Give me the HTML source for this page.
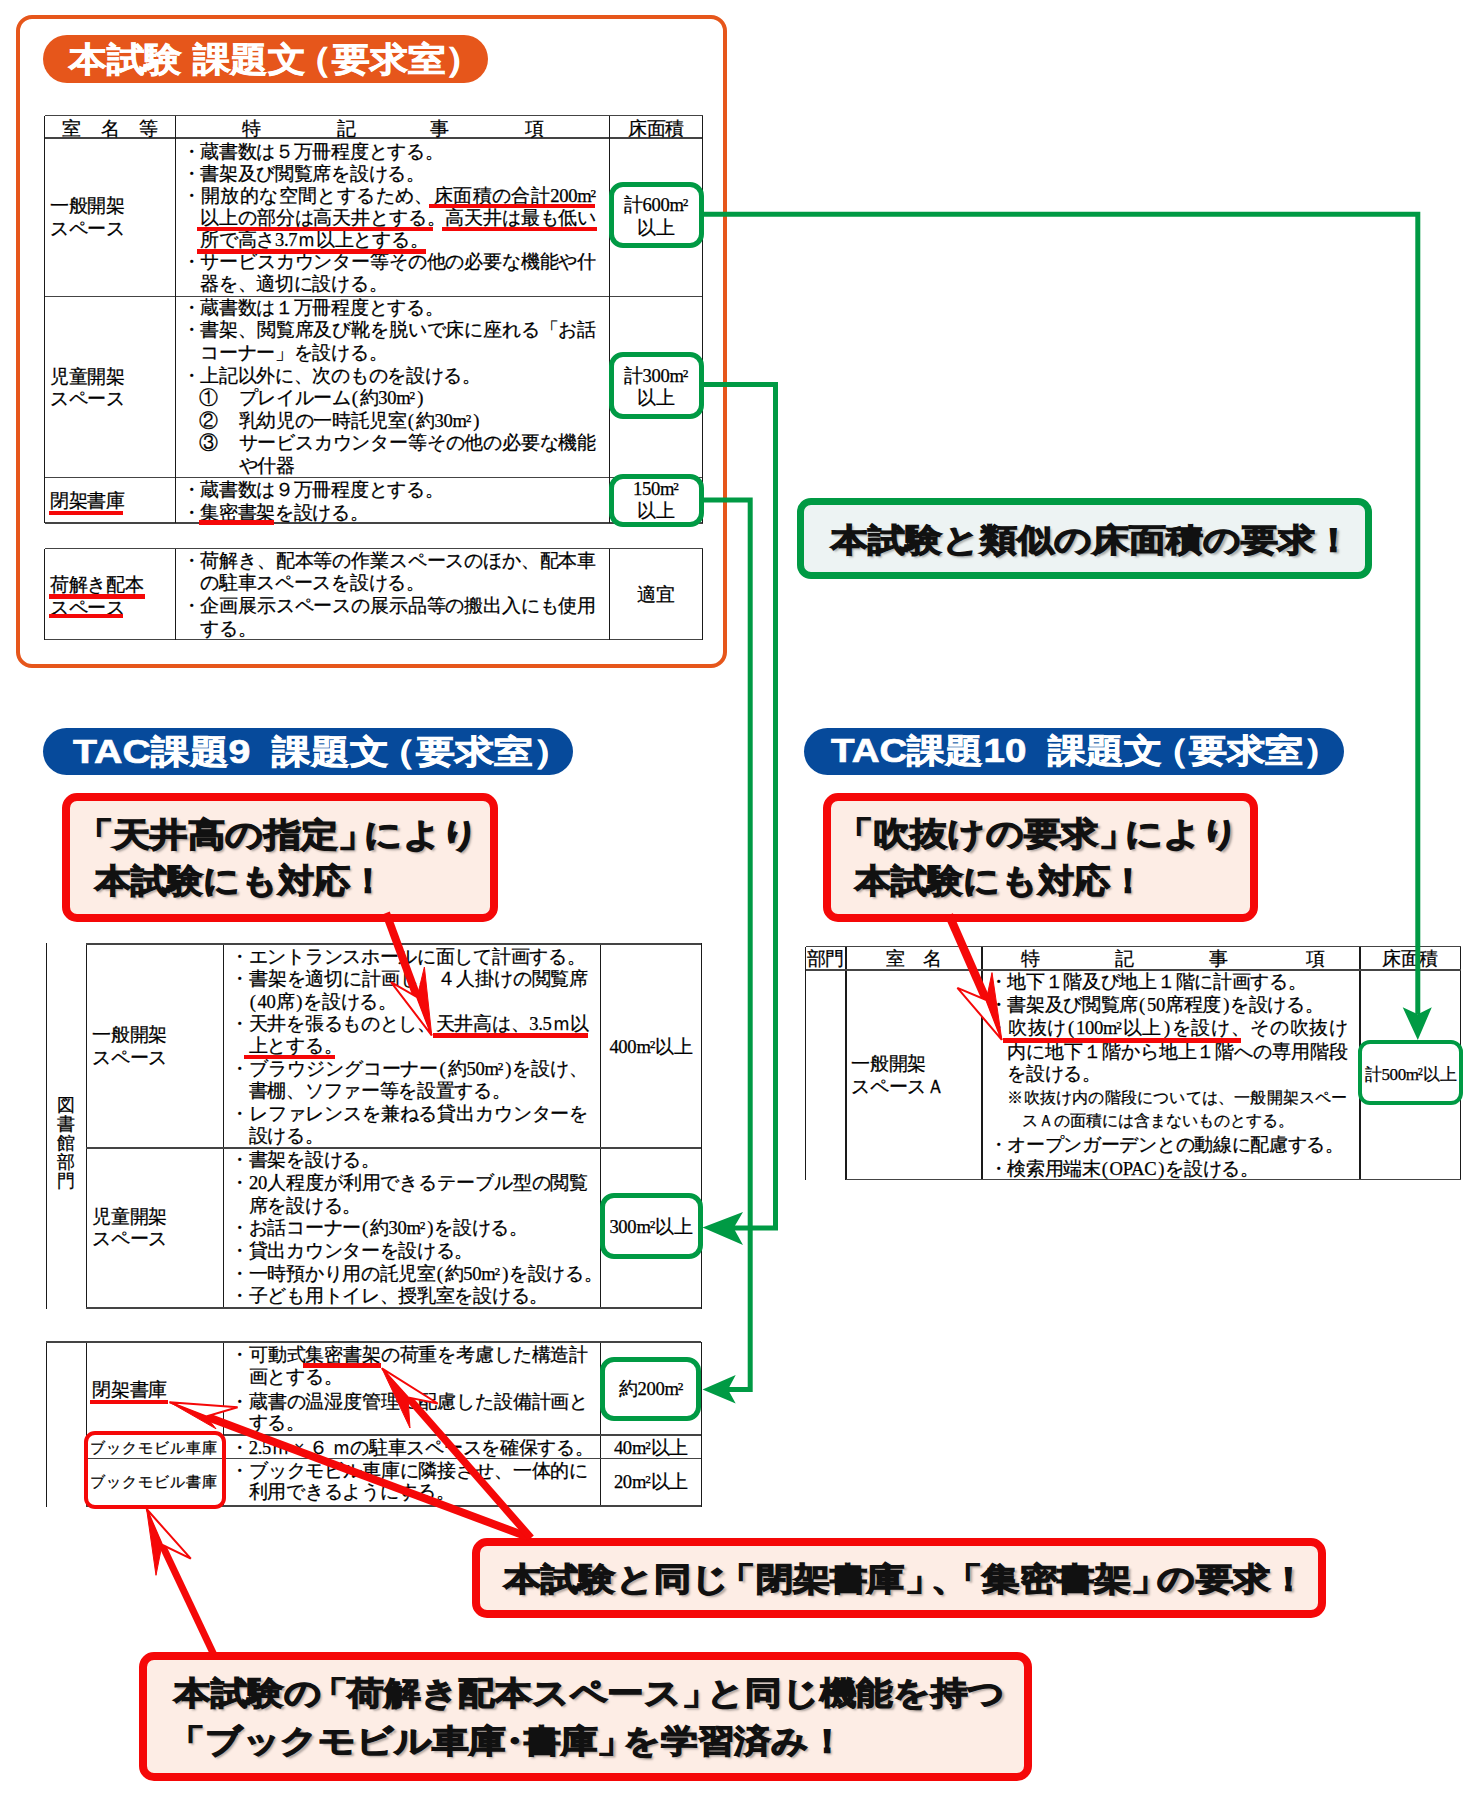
<!DOCTYPE html>
<html lang="ja"><head><meta charset="utf-8"><style>
html,body{margin:0;padding:0;background:#fff;}
body{width:1476px;height:1794px;position:relative;overflow:hidden;font-family:"Liberation Serif",serif;color:#111;}
.t{position:absolute;white-space:nowrap;line-height:24px;font-family:"Liberation Serif",serif;color:#000;-webkit-text-stroke:0.25px #000;}
.ob{margin-left:-0.3em}.cb{margin-right:-0.3em}.nd{margin:0 -0.25em}
.pl{margin-left:1px;margin-right:2px}.m2{letter-spacing:-1.2px;margin-right:1.2px}.pr{margin-left:2px;margin-right:1px}
.b{position:absolute;white-space:nowrap;font-family:"Liberation Sans",sans-serif;font-weight:bold;}
.cal{position:absolute;white-space:nowrap;font-family:"Liberation Sans",sans-serif;font-weight:bold;color:#111;line-height:1;transform-origin:0 0;-webkit-text-stroke:1.25px #111;text-shadow:2px 2px 2px rgba(0,0,0,0.3);}
.pill{position:absolute;white-space:nowrap;font-family:"Liberation Sans",sans-serif;font-weight:bold;color:#fff;line-height:1;transform-origin:0 0;-webkit-text-stroke:0.7px #fff;}
</style></head><body>
<div style="position:absolute;left:15.5px;top:14.5px;width:711.0px;height:653.5px;box-sizing:border-box;border:4px solid #E6561B;border-radius:16px;background:transparent;"></div>
<div style="position:absolute;left:43px;top:35px;width:445px;height:48px;border-radius:24px;background:#E6561B"></div>
<div style="position:absolute;left:44.5px;top:114.7px;width:658.0px;height:1.6px;background:#444"></div>
<div style="position:absolute;left:44.5px;top:137.2px;width:658.0px;height:1.6px;background:#444"></div>
<div style="position:absolute;left:44.5px;top:295.5px;width:658.0px;height:1.6px;background:#444"></div>
<div style="position:absolute;left:44.5px;top:476.59999999999997px;width:658.0px;height:1.6px;background:#444"></div>
<div style="position:absolute;left:44.5px;top:522.2px;width:658.0px;height:1.6px;background:#444"></div>
<div style="position:absolute;left:43.85px;top:115.5px;width:1.3px;height:407.5px;background:#1a1a1a"></div>
<div style="position:absolute;left:174.85px;top:115.5px;width:1.3px;height:407.5px;background:#1a1a1a"></div>
<div style="position:absolute;left:608.85px;top:115.5px;width:1.3px;height:407.5px;background:#1a1a1a"></div>
<div style="position:absolute;left:701.85px;top:115.5px;width:1.3px;height:407.5px;background:#1a1a1a"></div>
<div class="t" style="left:-78.5px;width:300px;text-align:center;top:116.80000000000001px;font-size:18.6px;letter-spacing:-0.3px;">室</div>
<div class="t" style="left:-40px;width:300px;text-align:center;top:116.80000000000001px;font-size:18.6px;letter-spacing:-0.3px;">名</div>
<div class="t" style="left:-2px;width:300px;text-align:center;top:116.80000000000001px;font-size:18.6px;letter-spacing:-0.3px;">等</div>
<div class="t" style="left:101px;width:300px;text-align:center;top:116.80000000000001px;font-size:18.6px;letter-spacing:-0.3px;">特</div>
<div class="t" style="left:196px;width:300px;text-align:center;top:116.80000000000001px;font-size:18.6px;letter-spacing:-0.3px;">記</div>
<div class="t" style="left:289.5px;width:300px;text-align:center;top:116.80000000000001px;font-size:18.6px;letter-spacing:-0.3px;">事</div>
<div class="t" style="left:384px;width:300px;text-align:center;top:116.80000000000001px;font-size:18.6px;letter-spacing:-0.3px;">項</div>
<div class="t" style="left:506px;width:300px;text-align:center;top:116.80000000000001px;font-size:18.6px;letter-spacing:-0.3px;">床面積</div>
<div class="t" style="left:50px;top:194.2px;font-size:18.6px;letter-spacing:-0.3px;">一般開架</div>
<div class="t" style="left:50px;top:217.3px;font-size:18.6px;letter-spacing:-0.3px;">スペース</div>
<div class="t" style="left:181.5px;top:139.5px;font-size:18.6px;letter-spacing:-0.3px;">・蔵書数は５万冊程度とする。</div>
<div class="t" style="left:181.5px;top:161.65px;font-size:18.6px;letter-spacing:-0.3px;">・書架及び閲覧席を設ける。</div>
<div class="t" style="left:181.5px;top:183.8px;font-size:18.6px;letter-spacing:-0.3px;width:414.5px;text-align:justify;text-align-last:justify;">・開放的な空間とするため、床面積の合計200<span class="m2">m²</span></div>
<div class="t" style="left:181.5px;top:205.95px;font-size:18.6px;letter-spacing:-0.3px;width:414.5px;text-align:justify;text-align-last:justify;">　以上の部分は高天井とする。高天井は最も低い</div>
<div class="t" style="left:181.5px;top:228.1px;font-size:18.6px;letter-spacing:-0.3px;">　所で高さ3.7ｍ以上とする。</div>
<div class="t" style="left:181.5px;top:250.25px;font-size:18.6px;letter-spacing:-0.3px;width:414.5px;text-align:justify;text-align-last:justify;">・サービスカウンター等その他の必要な機能や什</div>
<div class="t" style="left:181.5px;top:272.4px;font-size:18.6px;letter-spacing:-0.3px;">　器を、適切に設ける。</div>
<div class="t" style="left:50px;top:364.7px;font-size:18.6px;letter-spacing:-0.3px;">児童開架</div>
<div class="t" style="left:50px;top:387.3px;font-size:18.6px;letter-spacing:-0.3px;">スペース</div>
<div class="t" style="left:181.5px;top:295.7px;font-size:18.6px;letter-spacing:-0.3px;">・蔵書数は１万冊程度とする。</div>
<div class="t" style="left:181.5px;top:318.3px;font-size:18.6px;letter-spacing:-0.3px;width:414.5px;text-align:justify;text-align-last:justify;">・書架、閲覧席及び靴を脱いで床に座れる「お話</div>
<div class="t" style="left:181.5px;top:340.9px;font-size:18.6px;letter-spacing:-0.3px;">　コーナー」を設ける。</div>
<div class="t" style="left:181.5px;top:363.5px;font-size:18.6px;letter-spacing:-0.3px;">・上記以外に、次のものを設ける。</div>
<div class="t" style="left:199px;top:386.0px;font-size:18.6px;letter-spacing:-0.3px;">①</div>
<div class="t" style="left:238.5px;top:386.0px;font-size:18.6px;letter-spacing:-0.3px;">プレイルーム<span class="pl">(</span>約30<span class="m2">m²</span><span class="pr">)</span></div>
<div class="t" style="left:199px;top:408.9px;font-size:18.6px;letter-spacing:-0.3px;">②</div>
<div class="t" style="left:238.5px;top:408.9px;font-size:18.6px;letter-spacing:-0.3px;">乳幼児の一時託児室<span class="pl">(</span>約30<span class="m2">m²</span><span class="pr">)</span></div>
<div class="t" style="left:199px;top:431.3px;font-size:18.6px;letter-spacing:-0.3px;">③</div>
<div class="t" style="left:238.5px;top:431.3px;font-size:18.6px;letter-spacing:-0.3px;width:357.5px;text-align:justify;text-align-last:justify;">サービスカウンター等その他の必要な機能</div>
<div class="t" style="left:238.5px;top:454.0px;font-size:18.6px;letter-spacing:-0.3px;">や什器</div>
<div class="t" style="left:50px;top:489.4px;font-size:18.6px;letter-spacing:-0.3px;">閉架書庫</div>
<div class="t" style="left:181.5px;top:478.4px;font-size:18.6px;letter-spacing:-0.3px;">・蔵書数は９万冊程度とする。</div>
<div class="t" style="left:181.5px;top:500.79999999999995px;font-size:18.6px;letter-spacing:-0.3px;">・集密書架を設ける。</div>
<div style="position:absolute;left:44.5px;top:547.7px;width:658.0px;height:1.6px;background:#444"></div>
<div style="position:absolute;left:44.5px;top:638.7px;width:658.0px;height:1.6px;background:#444"></div>
<div style="position:absolute;left:43.85px;top:548.5px;width:1.3px;height:91.0px;background:#1a1a1a"></div>
<div style="position:absolute;left:174.85px;top:548.5px;width:1.3px;height:91.0px;background:#1a1a1a"></div>
<div style="position:absolute;left:608.85px;top:548.5px;width:1.3px;height:91.0px;background:#1a1a1a"></div>
<div style="position:absolute;left:701.85px;top:548.5px;width:1.3px;height:91.0px;background:#1a1a1a"></div>
<div class="t" style="left:50px;top:572.7px;font-size:18.6px;letter-spacing:-0.3px;">荷解き配本</div>
<div class="t" style="left:50px;top:596.2px;font-size:18.6px;letter-spacing:-0.3px;">スペース</div>
<div class="t" style="left:181.5px;top:548.7px;font-size:18.6px;letter-spacing:-0.3px;width:414.5px;text-align:justify;text-align-last:justify;">・荷解き、配本等の作業スペースのほか、配本車</div>
<div class="t" style="left:181.5px;top:571.3000000000001px;font-size:18.6px;letter-spacing:-0.3px;">　の駐車スペースを設ける。</div>
<div class="t" style="left:181.5px;top:593.9000000000001px;font-size:18.6px;letter-spacing:-0.3px;width:414.5px;text-align:justify;text-align-last:justify;">・企画展示スペースの展示品等の搬出入にも使用</div>
<div class="t" style="left:181.5px;top:616.5px;font-size:18.6px;letter-spacing:-0.3px;">　する。</div>
<div class="t" style="left:506px;width:300px;text-align:center;top:583.3px;font-size:18.6px;letter-spacing:-0.3px;">適宜</div>
<div style="position:absolute;left:429.1px;top:203.55px;width:166.19999999999993px;height:4.5px;background:#F50808"></div>
<div style="position:absolute;left:196.8px;top:226.55px;width:236.59999999999997px;height:4.5px;background:#F50808"></div>
<div style="position:absolute;left:442.2px;top:226.55px;width:154.8px;height:4.5px;background:#F50808"></div>
<div style="position:absolute;left:196.8px;top:249.35px;width:228.89999999999998px;height:4.5px;background:#F50808"></div>
<div style="position:absolute;left:49.1px;top:510.95000000000005px;width:74.19999999999999px;height:4.5px;background:#F50808"></div>
<div style="position:absolute;left:199px;top:520.25px;width:75px;height:4.5px;background:#F50808"></div>
<div style="position:absolute;left:49.3px;top:594.15px;width:95.39999999999999px;height:4.5px;background:#F50808"></div>
<div style="position:absolute;left:49.3px;top:613.95px;width:73.7px;height:4.5px;background:#F50808"></div>
<div style="position:absolute;left:608.7px;top:181.8px;width:95.09999999999991px;height:66.6px;box-sizing:border-box;border:5.2px solid #009A44;border-radius:14px;background:#fff;"></div>
<div class="t" style="left:506px;width:300px;text-align:center;top:193.0px;font-size:18.6px;letter-spacing:-0.3px;">計600<span class="m2">m²</span></div>
<div class="t" style="left:506px;width:300px;text-align:center;top:216.0px;font-size:18.6px;letter-spacing:-0.3px;">以上</div>
<div style="position:absolute;left:608.7px;top:352px;width:95.09999999999991px;height:66.60000000000002px;box-sizing:border-box;border:5.2px solid #009A44;border-radius:14px;background:#fff;"></div>
<div class="t" style="left:506px;width:300px;text-align:center;top:364.0px;font-size:18.6px;letter-spacing:-0.3px;">計300<span class="m2">m²</span></div>
<div class="t" style="left:506px;width:300px;text-align:center;top:386.0px;font-size:18.6px;letter-spacing:-0.3px;">以上</div>
<div style="position:absolute;left:608.7px;top:473.9px;width:95.09999999999991px;height:53.0px;box-sizing:border-box;border:5.2px solid #009A44;border-radius:14px;background:#fff;"></div>
<div class="t" style="left:506px;width:300px;text-align:center;top:477.0px;font-size:18.6px;letter-spacing:-0.3px;">150<span class="m2">m²</span></div>
<div class="t" style="left:506px;width:300px;text-align:center;top:499.0px;font-size:18.6px;letter-spacing:-0.3px;">以上</div>
<div style="position:absolute;left:797.4px;top:498px;width:574.6px;height:81px;box-sizing:border-box;border:7.8px solid #009A44;border-radius:14px;background:#EDF3F3;"></div>
<div style="position:absolute;left:43px;top:727.5px;width:530px;height:47px;border-radius:23.5px;background:#064A9B"></div>
<div style="position:absolute;left:803.5px;top:727.5px;width:540.5px;height:47px;border-radius:23.5px;background:#064A9B"></div>
<div style="position:absolute;left:62px;top:793.4px;width:436px;height:128.20000000000005px;box-sizing:border-box;border:8px solid #F50808;border-radius:15px;background:#FDEDE5;"></div>
<div style="position:absolute;left:822.5px;top:793.4px;width:435.5px;height:128.20000000000005px;box-sizing:border-box;border:8px solid #F50808;border-radius:15px;background:#FDEDE5;"></div>
<div style="position:absolute;left:472px;top:1538.3px;width:853.7px;height:79.70000000000005px;box-sizing:border-box;border:8px solid #F50808;border-radius:15px;background:#FDEDE5;"></div>
<div style="position:absolute;left:139.2px;top:1652px;width:892.8px;height:128.70000000000005px;box-sizing:border-box;border:8.2px solid #F50808;border-radius:15px;background:#FDEDE5;"></div>
<div class="cal" style="left:831.00px;top:524.40px;font-size:32.4px;transform:scaleX(1.1561)">本試験と類似の床面積の要求！</div>
<div class="cal" style="left:86.60px;top:817.80px;font-size:33.3px;transform:scaleX(1.1316)"><span class="ob">「</span>天井高の指定<span class="cb">」</span>により</div>
<div class="cal" style="left:94.60px;top:864.30px;font-size:33.3px;transform:scaleX(1.0941)">本試験にも対応！</div>
<div class="cal" style="left:846.60px;top:817.30px;font-size:33.3px;transform:scaleX(1.1282)"><span class="ob">「</span>吹抜けの要求<span class="cb">」</span>により</div>
<div class="cal" style="left:854.60px;top:864.30px;font-size:33.3px;transform:scaleX(1.0941)">本試験にも対応！</div>
<div class="cal" style="left:503.60px;top:1563.40px;font-size:32.4px;transform:scaleX(1.1638)">本試験と同じ<span class="ob">「</span>閉架書庫<span class="cb">」</span><span class="cb">、</span><span class="ob">「</span>集密書架<span class="cb">」</span>の要求！</div>
<div class="cal" style="left:174.00px;top:1677.40px;font-size:32.4px;transform:scaleX(1.1456)">本試験の<span class="ob">「</span>荷解き配本スペース<span class="cb">」</span>と同じ機能を持つ</div>
<div class="cal" style="left:179.00px;top:1725.40px;font-size:32.4px;transform:scaleX(1.1488)"><span class="ob">「</span>ブックモビル車庫<span class="nd">・</span>書庫<span class="cb">」</span>を学習済み！</div>
<div class="pill" style="left:68.80px;top:42.30px;font-size:34.2px;transform:scaleX(1.1091)">本試験 課題文<span class="ob">（</span>要求室<span class="cb">）</span></div>
<div class="pill" style="left:72.60px;top:734.60px;font-size:33.3px;transform:scaleX(1.1789)">TAC課題9&nbsp; 課題文<span class="ob">（</span>要求室<span class="cb">）</span></div>
<div class="pill" style="left:830.50px;top:734.10px;font-size:33.3px;transform:scaleX(1.1564)">TAC課題10&nbsp; 課題文<span class="ob">（</span>要求室<span class="cb">）</span></div>
<div style="position:absolute;left:45.550000000000004px;top:943px;width:1.3px;height:365.5px;background:#1a1a1a"></div>
<div style="position:absolute;left:85.75px;top:943px;width:1.3px;height:365.5px;background:#1a1a1a"></div>
<div style="position:absolute;left:222.85px;top:943px;width:1.3px;height:365.5px;background:#1a1a1a"></div>
<div style="position:absolute;left:599.95px;top:943px;width:1.3px;height:365.5px;background:#1a1a1a"></div>
<div style="position:absolute;left:700.75px;top:943px;width:1.3px;height:365.5px;background:#1a1a1a"></div>
<div style="position:absolute;left:86.4px;top:943.2px;width:615.0px;height:1.6px;background:#444"></div>
<div style="position:absolute;left:86.4px;top:1147.2px;width:615.0px;height:1.6px;background:#444"></div>
<div style="position:absolute;left:86.4px;top:1307.4px;width:615.0px;height:1.6px;background:#444"></div>
<div class="t" style="left:-84.3px;width:300px;text-align:center;top:1093.0px;font-size:17.5px;letter-spacing:0px;">図</div>
<div class="t" style="left:-84.3px;width:300px;text-align:center;top:1111.9px;font-size:17.5px;letter-spacing:0px;">書</div>
<div class="t" style="left:-84.3px;width:300px;text-align:center;top:1130.8px;font-size:17.5px;letter-spacing:0px;">館</div>
<div class="t" style="left:-84.3px;width:300px;text-align:center;top:1149.7px;font-size:17.5px;letter-spacing:0px;">部</div>
<div class="t" style="left:-84.3px;width:300px;text-align:center;top:1168.6px;font-size:17.5px;letter-spacing:0px;">門</div>
<div class="t" style="left:92.3px;top:1023.2px;font-size:18.6px;letter-spacing:-0.3px;">一般開架</div>
<div class="t" style="left:92.3px;top:1046.0px;font-size:18.6px;letter-spacing:-0.3px;">スペース</div>
<div class="t" style="left:230px;top:944.6px;font-size:18.6px;letter-spacing:-0.3px;">・エントランスホールに面して計画する。</div>
<div class="t" style="left:230px;top:967.0500000000001px;font-size:18.6px;letter-spacing:-0.3px;width:358.0px;text-align:justify;text-align-last:justify;">・書架を適切に計画し、４人掛けの閲覧席</div>
<div class="t" style="left:230px;top:989.5px;font-size:18.6px;letter-spacing:-0.3px;">　<span class="pl">(</span>40席<span class="pr">)</span>を設ける。</div>
<div class="t" style="left:230px;top:1011.95px;font-size:18.6px;letter-spacing:-0.3px;width:358.0px;text-align:justify;text-align-last:justify;">・天井を張るものとし、天井高は、3.5ｍ以</div>
<div class="t" style="left:230px;top:1034.4px;font-size:18.6px;letter-spacing:-0.3px;">　上とする。</div>
<div class="t" style="left:230px;top:1056.85px;font-size:18.6px;letter-spacing:-0.3px;width:358.0px;text-align:justify;text-align-last:justify;">・ブラウジングコーナー<span class="pl">(</span>約50<span class="m2">m²</span><span class="pr">)</span>を設け、</div>
<div class="t" style="left:230px;top:1079.3px;font-size:18.6px;letter-spacing:-0.3px;">　書棚、ソファー等を設置する。</div>
<div class="t" style="left:230px;top:1101.75px;font-size:18.6px;letter-spacing:-0.3px;width:358.0px;text-align:justify;text-align-last:justify;">・レファレンスを兼ねる貸出カウンターを</div>
<div class="t" style="left:230px;top:1124.2px;font-size:18.6px;letter-spacing:-0.3px;">　設ける。</div>
<div class="t" style="left:501px;width:300px;text-align:center;top:1035.0px;font-size:18.6px;letter-spacing:-0.3px;">400<span class="m2">m²</span>以上</div>
<div class="t" style="left:92.3px;top:1204.6px;font-size:18.6px;letter-spacing:-0.3px;">児童開架</div>
<div class="t" style="left:92.3px;top:1227.4px;font-size:18.6px;letter-spacing:-0.3px;">スペース</div>
<div class="t" style="left:230px;top:1148.4px;font-size:18.6px;letter-spacing:-0.3px;">・書架を設ける。</div>
<div class="t" style="left:230px;top:1171.0600000000002px;font-size:18.6px;letter-spacing:-0.3px;width:358.0px;text-align:justify;text-align-last:justify;">・20人程度が利用できるテーブル型の閲覧</div>
<div class="t" style="left:230px;top:1193.72px;font-size:18.6px;letter-spacing:-0.3px;">　席を設ける。</div>
<div class="t" style="left:230px;top:1216.38px;font-size:18.6px;letter-spacing:-0.3px;">・お話コーナー<span class="pl">(</span>約30<span class="m2">m²</span><span class="pr">)</span>を設ける。</div>
<div class="t" style="left:230px;top:1239.0400000000002px;font-size:18.6px;letter-spacing:-0.3px;">・貸出カウンターを設ける。</div>
<div class="t" style="left:230px;top:1261.7px;font-size:18.6px;letter-spacing:-0.3px;">・一時預かり用の託児室<span class="pl">(</span>約50<span class="m2">m²</span><span class="pr">)</span>を設ける。</div>
<div class="t" style="left:230px;top:1284.3600000000001px;font-size:18.6px;letter-spacing:-0.3px;">・子ども用トイレ、授乳室を設ける。</div>
<div style="position:absolute;left:433px;top:1033.25px;width:155px;height:4.5px;background:#F50808"></div>
<div style="position:absolute;left:243.6px;top:1054.75px;width:91.9px;height:4.5px;background:#F50808"></div>
<div style="position:absolute;left:599.5px;top:1192.5px;width:103.0px;height:66.79999999999995px;box-sizing:border-box;border:5.1px solid #009A44;border-radius:14px;background:#fff;"></div>
<div class="t" style="left:501px;width:300px;text-align:center;top:1215.0px;font-size:18.6px;letter-spacing:-0.3px;">300<span class="m2">m²</span>以上</div>
<div style="position:absolute;left:45.550000000000004px;top:1342px;width:1.3px;height:164.5px;background:#1a1a1a"></div>
<div style="position:absolute;left:85.75px;top:1342px;width:1.3px;height:164.5px;background:#1a1a1a"></div>
<div style="position:absolute;left:222.85px;top:1342px;width:1.3px;height:164.5px;background:#1a1a1a"></div>
<div style="position:absolute;left:599.95px;top:1342px;width:1.3px;height:164.5px;background:#1a1a1a"></div>
<div style="position:absolute;left:700.75px;top:1342px;width:1.3px;height:164.5px;background:#1a1a1a"></div>
<div style="position:absolute;left:46.2px;top:1341.2px;width:655.1999999999999px;height:1.6px;background:#444"></div>
<div style="position:absolute;left:223.5px;top:1434.4px;width:477.9px;height:1.6px;background:#444"></div>
<div style="position:absolute;left:86.4px;top:1457.7px;width:615.0px;height:1.6px;background:#444"></div>
<div style="position:absolute;left:86.4px;top:1505.2px;width:615.0px;height:1.6px;background:#444"></div>
<div class="t" style="left:92.3px;top:1378.0px;font-size:18.6px;letter-spacing:-0.3px;">閉架書庫</div>
<div class="t" style="left:230px;top:1342.7px;font-size:18.6px;letter-spacing:-0.3px;width:358.0px;text-align:justify;text-align-last:justify;">・可動式集密書架の荷重を考慮した構造計</div>
<div class="t" style="left:230px;top:1365.4px;font-size:18.6px;letter-spacing:-0.3px;">　画とする。</div>
<div class="t" style="left:230px;top:1389.8px;font-size:18.6px;letter-spacing:-0.3px;width:358.0px;text-align:justify;text-align-last:justify;">・蔵書の温湿度管理に配慮した設備計画と</div>
<div class="t" style="left:230px;top:1411.4px;font-size:18.6px;letter-spacing:-0.3px;">　する。</div>
<div class="t" style="left:230px;top:1435.8px;font-size:18.6px;letter-spacing:-0.3px;width:351.0px;text-align:justify;text-align-last:justify;">・2.5ｍ × ６ ｍの駐車スペースを確保する。</div>
<div class="t" style="left:230px;top:1458.6px;font-size:18.6px;letter-spacing:-0.3px;width:358.0px;text-align:justify;text-align-last:justify;">・ブックモビル車庫に隣接させ、一体的に</div>
<div class="t" style="left:230px;top:1480.2px;font-size:18.6px;letter-spacing:-0.3px;">　利用できるようにする。</div>
<div class="t" style="left:90.3px;top:1435.8px;font-size:15.3px;letter-spacing:1.0px;">ブックモビル車庫</div>
<div class="t" style="left:90.3px;top:1470.4px;font-size:15.3px;letter-spacing:1.0px;">ブックモビル書庫</div>
<div style="position:absolute;left:599.8px;top:1356.5px;width:101.40000000000009px;height:64.0px;box-sizing:border-box;border:5.1px solid #009A44;border-radius:14px;background:#fff;"></div>
<div class="t" style="left:501px;width:300px;text-align:center;top:1377.0px;font-size:18.6px;letter-spacing:-0.3px;">約200<span class="m2">m²</span></div>
<div class="t" style="left:501px;width:300px;text-align:center;top:1435.8px;font-size:18.6px;letter-spacing:-0.3px;">40<span class="m2">m²</span>以上</div>
<div class="t" style="left:501px;width:300px;text-align:center;top:1470.4px;font-size:18.6px;letter-spacing:-0.3px;">20<span class="m2">m²</span>以上</div>
<div style="position:absolute;left:90.3px;top:1399.55px;width:77.39999999999999px;height:4.5px;background:#F50808"></div>
<div style="position:absolute;left:303px;top:1363.35px;width:78px;height:4.5px;background:#F50808"></div>
<div style="position:absolute;left:84px;top:1431px;width:142px;height:78px;box-sizing:border-box;border:4.5px solid #F50808;border-radius:11px;background:transparent;"></div>
<div style="position:absolute;left:804.85px;top:946.5px;width:1.3px;height:233.5px;background:#1a1a1a"></div>
<div style="position:absolute;left:845.35px;top:946.5px;width:1.3px;height:233.5px;background:#1a1a1a"></div>
<div style="position:absolute;left:981.35px;top:946.5px;width:1.3px;height:233.5px;background:#1a1a1a"></div>
<div style="position:absolute;left:1359.35px;top:946.5px;width:1.3px;height:233.5px;background:#1a1a1a"></div>
<div style="position:absolute;left:1459.85px;top:946.5px;width:1.3px;height:233.5px;background:#1a1a1a"></div>
<div style="position:absolute;left:805.5px;top:945.7px;width:655.0px;height:1.6px;background:#444"></div>
<div style="position:absolute;left:805.5px;top:969.2px;width:655.0px;height:1.6px;background:#444"></div>
<div style="position:absolute;left:846px;top:1178.7px;width:614.5px;height:1.6px;background:#444"></div>
<div class="t" style="left:807px;top:946.9px;font-size:18.6px;letter-spacing:-1px;">部門</div>
<div class="t" style="left:745.4px;width:300px;text-align:center;top:946.9px;font-size:18.6px;letter-spacing:-0.3px;">室</div>
<div class="t" style="left:782px;width:300px;text-align:center;top:946.9px;font-size:18.6px;letter-spacing:-0.3px;">名</div>
<div class="t" style="left:880px;width:300px;text-align:center;top:946.9px;font-size:18.6px;letter-spacing:-0.3px;">特</div>
<div class="t" style="left:974px;width:300px;text-align:center;top:946.9px;font-size:18.6px;letter-spacing:-0.3px;">記</div>
<div class="t" style="left:1068px;width:300px;text-align:center;top:946.9px;font-size:18.6px;letter-spacing:-0.3px;">事</div>
<div class="t" style="left:1165px;width:300px;text-align:center;top:946.9px;font-size:18.6px;letter-spacing:-0.3px;">項</div>
<div class="t" style="left:1260px;width:300px;text-align:center;top:946.9px;font-size:18.6px;letter-spacing:-0.3px;">床面積</div>
<div class="t" style="left:851.4px;top:1051.6px;font-size:18.6px;letter-spacing:-0.3px;">一般開架</div>
<div class="t" style="left:851.4px;top:1074.8px;font-size:18.6px;letter-spacing:-0.3px;">スペースＡ</div>
<div class="t" style="left:988.5px;top:969.7px;font-size:18.6px;letter-spacing:-0.3px;">・地下１階及び地上１階に計画する。</div>
<div class="t" style="left:988.5px;top:992.9px;font-size:18.6px;letter-spacing:-0.3px;">・書架及び閲覧席<span class="pl">(</span>50席程度<span class="pr">)</span>を設ける。</div>
<div class="t" style="left:988.5px;top:1016.0px;font-size:18.6px;letter-spacing:-0.3px;width:359.0px;text-align:justify;text-align-last:justify;">・吹抜け<span class="pl">(</span>100<span class="m2">m²</span>以上<span class="pr">)</span>を設け、その吹抜け</div>
<div class="t" style="left:988.5px;top:1040.0px;font-size:18.6px;letter-spacing:-0.3px;width:359.0px;text-align:justify;text-align-last:justify;">　内に地下１階から地上１階への専用階段</div>
<div class="t" style="left:988.5px;top:1062.4px;font-size:18.6px;letter-spacing:-0.3px;">　を設ける。</div>
<div class="t" style="left:988.5px;top:1132.7px;font-size:18.6px;letter-spacing:-0.3px;">・オープンガーデンとの動線に配慮する。</div>
<div class="t" style="left:988.5px;top:1156.6px;font-size:18.6px;letter-spacing:-0.3px;">・検索用端末<span class="pl">(</span>OPAC<span class="pr">)</span>を設ける。</div>
<div class="t" style="left:1007.4px;top:1086.3px;font-size:16px;letter-spacing:0px;width:340.1px;text-align:justify;text-align-last:justify;">※吹抜け内の階段については、一般開架スペー</div>
<div class="t" style="left:1022px;top:1108.7px;font-size:16px;letter-spacing:0px;">スＡの面積には含まないものとする。</div>
<div style="position:absolute;left:1002.7px;top:1038.15px;width:238.70000000000005px;height:4.5px;background:#F50808"></div>
<div style="position:absolute;left:1358px;top:1040px;width:104.70000000000005px;height:64.59999999999991px;box-sizing:border-box;border:4.6px solid #009A44;border-radius:12px;background:#fff;"></div>
<div class="t" style="left:1260.5px;width:300px;text-align:center;top:1062.5px;font-size:17px;letter-spacing:-0.4px;">計500<span class="m2">m²</span>以上</div>
<svg style="position:absolute;left:0;top:0" width="1476" height="1794" viewBox="0 0 1476 1794">
<polyline points="703.8,214.3 1417.8,214.3 1417.8,1014" fill="none" stroke="#009A44" stroke-width="5"/>
<polygon points="1417.8,1040 1402.7,1007.3 1417.8,1014.3 1431.8,1007.3" fill="#009A44"/>
<polyline points="703.8,384.5 775.5,384.5 775.5,1228 733,1228" fill="none" stroke="#009A44" stroke-width="5"/>
<polygon points="702.5,1227.5 743,1212 733.6,1228 743,1245" fill="#009A44"/>
<polyline points="703.8,500 750.2,500 750.2,1389.4 728,1389.4" fill="none" stroke="#009A44" stroke-width="5"/>
<polygon points="702.5,1389.4 735.7,1375 728,1389.4 735.7,1403.6" fill="#009A44"/>
<line x1="386" y1="913" x2="417.1" y2="997.2" stroke="#F50808" stroke-width="8"/>
<polygon points="431.7,1035.3 391,982.1 417.1,997.2" fill="#fff" stroke="#F50808" stroke-width="2" stroke-linejoin="miter"/>
<polygon points="431.7,1035.3 424.4,967 417.1,997.2" fill="#F50808" stroke="#F50808" stroke-width="1"/>
<line x1="949" y1="915" x2="986.3" y2="1000" stroke="#F50808" stroke-width="8.4"/>
<polygon points="1001.8,1039.8 957.4,987.8 986.3,1000" fill="#fff" stroke="#F50808" stroke-width="2" stroke-linejoin="miter"/>
<polygon points="1001.8,1039.8 992,972.6 986.3,1000" fill="#F50808" stroke="#F50808" stroke-width="1"/>
<line x1="528" y1="1537" x2="206.2" y2="1416.5" stroke="#F50808" stroke-width="8"/>
<polygon points="169.6,1402.2 237.6,1407.3 206.2,1416.5" fill="#fff" stroke="#F50808" stroke-width="2" stroke-linejoin="miter"/>
<polygon points="169.6,1402.2 216,1428.8 206.2,1416.5" fill="#F50808" stroke="#F50808" stroke-width="1"/>
<line x1="531" y1="1538" x2="408" y2="1397.4" stroke="#F50808" stroke-width="7.5"/>
<polygon points="381.9,1368.3 437.8,1403.5 408,1397.4" fill="#fff" stroke="#F50808" stroke-width="2" stroke-linejoin="miter"/>
<polygon points="381.9,1368.3 410,1428 408,1397.4" fill="#F50808" stroke="#F50808" stroke-width="1"/>
<line x1="214" y1="1655" x2="162" y2="1544.7" stroke="#F50808" stroke-width="7"/>
<polygon points="146.6,1509 190.8,1558.7 162,1544.7" fill="#fff" stroke="#F50808" stroke-width="2" stroke-linejoin="miter"/>
<polygon points="146.6,1509 156,1575.3 162,1544.7" fill="#F50808" stroke="#F50808" stroke-width="1"/>
</svg>
</body></html>
